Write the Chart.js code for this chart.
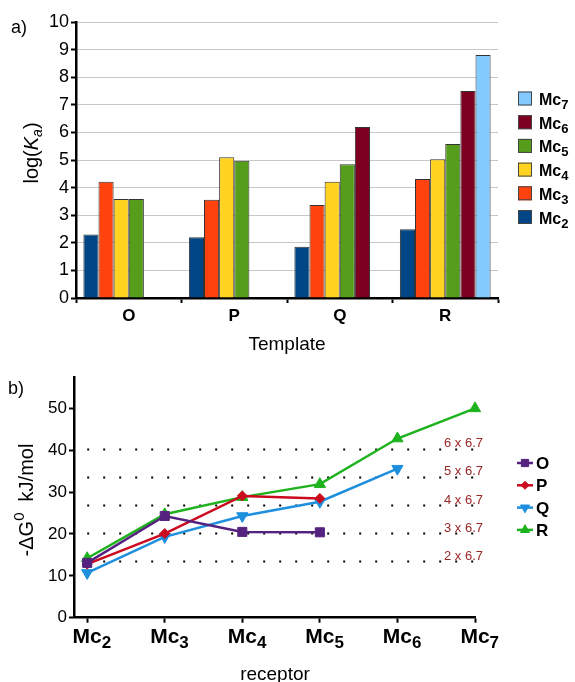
<!DOCTYPE html>
<html>
<head>
<meta charset="utf-8">
<script src="https://cdn.jsdelivr.net/npm/chart.js@4.4.1/dist/chart.umd.min.js"></script>
<style>
  body { margin: 0; background: #fff; }
  #wrap { position: relative; width: 575px; height: 682px; }
  .box { position: absolute; left: 0; width: 575px; }
</style>
</head>
<body>
<div id="wrap">
  <div class="box" style="top:0;height:355px"><canvas id="barChart"></canvas></div>
  <div class="box" style="top:355px;height:327px"><canvas id="lineChart"></canvas></div>
</div>
<script>
// a) log(Ka) for each template, one series per receptor
var templates = ['O', 'P', 'Q', 'R'];
var mc2 = [2.3, 2.2, 1.86, 2.49];
var mc3 = [4.21, 3.56, 3.37, 4.31];
var mc4 = [3.59, 5.1, 4.21, 5.03];
var mc5 = [3.59, 4.97, 4.85, 5.58];
var mc6 = [0, 0, 6.2, 7.5];
var mc7 = [0, 0, 0, 8.8];
var barColors = ['#004586', '#ff420e', '#ffd320', '#579d1c', '#7e0021', '#83caff'];

// b) -dG0 (kJ/mol) vs receptor, one series per template
var receptors = ['2', '3', '4', '5', '6', '7']; // Mc subscripts
var dgO = [13.1, 24.3, 20.5, 20.4];
var dgP = [12.8, 20.1, 29.1, 28.5];
var dgQ = [10.7, 19.3, 24.3, 27.7, 35.6];
var dgR = [14.2, 24.7, 28.8, 31.9, 42.8, 50.0];
var yTicksB = [0, 10, 20, 30, 40, 50];
var multiples = [2, 3, 4, 5, 6];
var unitDG = 6.7;

var FONT = "'Liberation Sans', Arial, sans-serif";
Chart.defaults.font.family = FONT;
Chart.defaults.color = '#000';

function drawMixed(ctx, parts, x, y, align) {
    var w = 0;
    parts.forEach(function (p) {
        ctx.font = p.font;
        p.w = ctx.measureText(p.text).width;
        w += p.w;
    });
    var cx = align === 'center' ? x - w / 2 : (align === 'right' ? x - w : x);
    ctx.textAlign = 'left';
    ctx.textBaseline = 'alphabetic';
    parts.forEach(function (p) {
        ctx.font = p.font;
        ctx.fillText(p.text, cx, y + (p.dy || 0));
        cx += p.w;
    });
}

// Mc with subscript, "Mc" centred on x
function drawMc(ctx, sub, x, y, size, subSize, dy) {
    ctx.font = 'bold ' + size + 'px ' + FONT;
    var mw = ctx.measureText('Mc').width;
    drawMixed(ctx, [
        { text: 'Mc', font: 'bold ' + size + 'px ' + FONT },
        { text: sub, font: 'bold ' + subSize + 'px ' + FONT, dy: dy }
    ], x - mw / 2, y, 'left');
}

var series = [mc2, mc3, mc4, mc5, mc6, mc7];
var barSets = series.map(function (s, i) {
    return {
        label: 'Mc' + receptors[i],
        data: s,
        backgroundColor: barColors[i],
        borderColor: '#333',
        borderWidth: 1,
        barPercentage: 1,
        categoryPercentage: 0.86
    };
});

var decorA = {
    id: 'decorA',
    afterDraw: function (chart) {
        var ctx = chart.ctx;
        ctx.save();
        ctx.fillStyle = '#000';
        drawMixed(ctx, [{ text: 'a)', font: '18px ' + FONT }], 11, 33, 'left');
        drawMixed(ctx, [{ text: 'Template', font: '19px ' + FONT }], 287, 350, 'center');
        // y title: log(Ka)
        ctx.save();
        ctx.translate(38, 153);
        ctx.rotate(-Math.PI / 2);
        drawMixed(ctx, [
            { text: 'log(', font: '20px ' + FONT },
            { text: 'K', font: 'italic 20px ' + FONT },
            { text: 'a', font: 'italic 14px ' + FONT, dy: 4 },
            { text: ')', font: '20px ' + FONT }
        ], 0, 0, 'center');
        ctx.restore();
        // legend, reversed (Mc7 on top)
        for (var k = 0; k < receptors.length; k++) {
            var i = receptors.length - 1 - k;
            var cy = 98.5 + k * 23.7;
            ctx.fillStyle = barColors[i];
            ctx.fillRect(518, cy - 7, 14, 14);
            ctx.strokeStyle = '#444';
            ctx.lineWidth = 1;
            ctx.strokeRect(518.5, cy - 6.5, 13, 13);
            ctx.fillStyle = '#000';
            ctx.font = 'bold 16px ' + FONT;
            var mw = ctx.measureText('Mc').width;
            drawMc(ctx, receptors[i], 539 + mw / 2, cy + 6.5, 16, 13, 4);
        }
        ctx.restore();
    }
};

new Chart(document.getElementById('barChart'), {
    type: 'bar',
    data: { labels: templates, datasets: barSets },
    options: {
        responsive: true,
        maintainAspectRatio: false,
        animation: false,
        layout: { padding: { top: 22, right: 77, left: 0, bottom: 0 } },
        plugins: { legend: { display: false }, tooltip: { enabled: false } },
        scales: {
            x: {
                offset: true,
                grid: { offset: true, drawOnChartArea: false, tickLength: 5, tickColor: '#000', tickWidth: 2 },
                border: { color: '#000', width: 2.5 },
                ticks: { font: { size: 17, weight: 'bold' }, color: '#000', padding: 3 },
                afterFit: function (s) { s.height = 57; }
            },
            y: {
                min: 0,
                max: 10,
                ticks: { stepSize: 1, font: { size: 18 }, color: '#000', padding: 2 },
                grid: { color: '#c8c8c8', tickColor: '#000', tickLength: 5, tickWidth: 2 },
                border: { color: '#000', width: 2.5 },
                afterFit: function (s) { s.width = 76; }
            }
        }
    },
    plugins: [decorA]
});

// b)
var lineDefs = [
    { label: 'O', data: dgO, color: '#55237f', style: 'rect', radius: 6.4, rotation: 0 },
    { label: 'P', data: dgP, color: '#cc0a1e', style: 'rectRot', radius: 5, rotation: 0 },
    { label: 'Q', data: dgQ, color: '#1e8fdd', style: 'triangle', radius: 6.5, rotation: 180 },
    { label: 'R', data: dgR, color: '#1eb31e', style: 'triangle', radius: 6.5, rotation: 0 }
];

var lineSets = lineDefs.map(function (d) {
    return {
        label: d.label,
        data: d.data.map(function (v, i) { return { x: i, y: v }; }),
        borderColor: d.color,
        backgroundColor: d.color,
        borderWidth: 2.5,
        pointStyle: d.style,
        pointRadius: d.radius,
        pointRotation: d.rotation,
        pointBackgroundColor: d.color,
        pointBorderColor: d.color,
        pointBorderWidth: 1,
        tension: 0,
        clip: false
    };
});

var dotSets = multiples.map(function (m) {
    return {
        label: m + ' x ' + unitDG,
        data: [{ x: 0, y: m * unitDG }, { x: 5.06, y: m * unitDG }],
        borderColor: '#000',
        borderWidth: 2,
        borderDash: [2, 14],
        pointRadius: 0,
        clip: false
    };
});

var decorB = {
    id: 'decorB',
    afterDraw: function (chart) {
        var ctx = chart.ctx;
        var xs = chart.scales.x, ys = chart.scales.y;
        ctx.save();
        ctx.fillStyle = '#000';
        drawMixed(ctx, [{ text: 'b)', font: '18px ' + FONT }], 8, 39, 'left');
        drawMixed(ctx, [{ text: 'receptor', font: '19px ' + FONT }], 275, 325, 'center');
        // x tick labels
        receptors.forEach(function (r, i) {
            drawMc(ctx, r, xs.getPixelForValue(i), 288, 21, 17, 5);
        });
        // y title
        ctx.save();
        ctx.translate(33, 145);
        ctx.rotate(-Math.PI / 2);
        drawMixed(ctx, [
            { text: '-\u0394G', font: '20px ' + FONT },
            { text: '0', font: '15px ' + FONT, dy: -9 },
            { text: '  kJ/mol', font: '20px ' + FONT }
        ], 0, 0, 'center');
        ctx.restore();
        // labels of the dotted levels
        ctx.fillStyle = '#992626';
        multiples.forEach(function (m) {
            drawMixed(ctx, [{ text: m + ' x ' + unitDG, font: '13px ' + FONT }], 483, ys.getPixelForValue(m * unitDG) - 2, 'right');
        });
        // legend
        lineDefs.forEach(function (d, i) {
            var cy = 108 + i * 22.3;
            ctx.strokeStyle = d.color;
            ctx.lineWidth = 2.5;
            ctx.beginPath();
            ctx.moveTo(517, cy);
            ctx.lineTo(533, cy);
            ctx.stroke();
            ctx.fillStyle = d.color;
            ctx.lineWidth = 1;
            Chart.helpers.drawPoint(ctx, { pointStyle: d.style, rotation: d.rotation, radius: d.radius * 0.8, borderWidth: 1 }, 525, cy);
            ctx.fillStyle = '#000';
            drawMixed(ctx, [{ text: d.label, font: 'bold 17px ' + FONT }], 536, cy + 6, 'left');
        });
        ctx.restore();
    }
};

new Chart(document.getElementById('lineChart'), {
    type: 'line',
    data: { datasets: lineSets.concat(dotSets) },
    options: {
        responsive: true,
        maintainAspectRatio: false,
        animation: false,
        layout: { padding: { top: 22, right: 100, left: 0, bottom: 0 } },
        plugins: { legend: { display: false }, tooltip: { enabled: false } },
        scales: {
            x: {
                type: 'linear',
                min: -0.17,
                max: 5,
                afterBuildTicks: function (s) {
                    s.ticks = receptors.map(function (r, i) { return { value: i }; });
                },
                ticks: { display: false },
                grid: { drawOnChartArea: false, tickLength: 5, tickColor: '#000', tickWidth: 2 },
                border: { color: '#000', width: 2.5 },
                afterFit: function (s) { s.height = 64.3; }
            },
            y: {
                min: 0,
                max: 57.5,
                afterBuildTicks: function (s) {
                    s.ticks = yTicksB.map(function (v) { return { value: v }; });
                },
                ticks: { font: { size: 17 }, color: '#000', padding: 2 },
                grid: { drawOnChartArea: false, tickLength: 5, tickColor: '#000', tickWidth: 2 },
                border: { color: '#000', width: 2.5 },
                afterFit: function (s) { s.width = 74; }
            }
        }
    },
    plugins: [decorB]
});
</script>
</body>
</html>
